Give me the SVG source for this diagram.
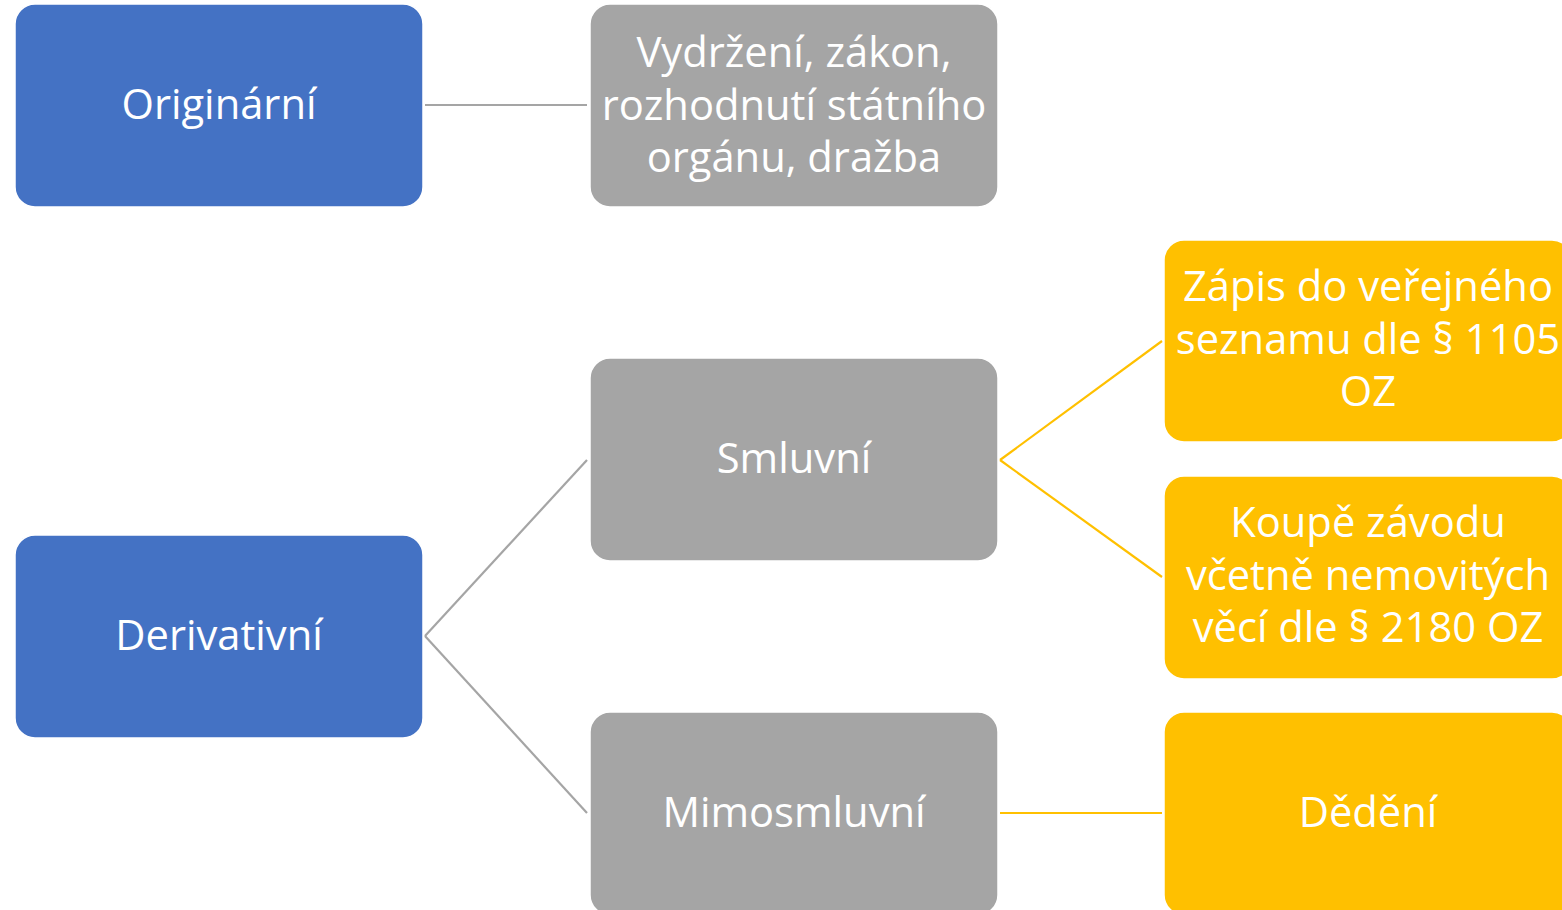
<svg xmlns="http://www.w3.org/2000/svg" width="1562" height="910" viewBox="0 0 1562 910">
<style>
.box{stroke:#fff;stroke-width:1.5}
.blue{fill:#4472C4}
.gray{fill:#A5A5A5}
.yellow{fill:#FFC000}
.t{font-family:"Open Sans","Noto Sans","Liberation Sans",sans-serif;font-size:41.7px;fill:#fff;text-anchor:middle}
.cg{stroke:#A5A5A5;stroke-width:2.2;fill:none}
.cy{stroke:#FFC000;stroke-width:2.2;fill:none}
</style>
<rect width="1562" height="910" fill="#fff"/>
<g id="connectors">
<line class="cg" x1="425" y1="105" x2="587" y2="105"/>
<line class="cg" x1="425" y1="636" x2="587" y2="460"/>
<line class="cg" x1="425" y1="636" x2="587" y2="813"/>
<line class="cy" x1="1000" y1="460" x2="1162" y2="341"/>
<line class="cy" x1="1000" y1="460" x2="1162" y2="577"/>
<line class="cy" x1="1000" y1="813" x2="1162" y2="813"/>
</g>
<g id="originarni">
<rect class="box blue" x="15" y="4" width="408" height="203" rx="20"/>
<text class="t" x="219" y="119">Originární</text>
</g>
<g id="derivativni">
<rect class="box blue" x="15" y="535" width="408" height="203" rx="20"/>
<text class="t" x="219" y="650">Derivativní</text>
</g>
<g id="vydrzeni">
<rect class="box gray" x="590" y="4" width="408" height="203" rx="20"/>
<text class="t" x="794" y="67">Vydržení, zákon,</text>
<text class="t" x="794" y="120">rozhodnutí státního</text>
<text class="t" x="794" y="172">orgánu, dražba</text>
</g>
<g id="smluvni">
<rect class="box gray" x="590" y="358" width="408" height="203" rx="20"/>
<text class="t" x="794" y="473">Smluvní</text>
</g>
<g id="mimosmluvni">
<rect class="box gray" x="590" y="712" width="408" height="203" rx="20"/>
<text class="t" x="794" y="827">Mimosmluvní</text>
</g>
<g id="zapis">
<rect class="box yellow" x="1164" y="240" width="408" height="202" rx="20"/>
<text class="t" x="1368" y="301">Zápis do veřejného</text>
<text class="t" x="1368" y="354">seznamu dle § 1105</text>
<text class="t" x="1368" y="406">OZ</text>
</g>
<g id="koupe">
<rect class="box yellow" x="1164" y="476" width="408" height="203" rx="20"/>
<text class="t" x="1368" y="537">Koupě závodu</text>
<text class="t" x="1368" y="590">včetně nemovitých</text>
<text class="t" x="1368" y="642">věcí dle § 2180 OZ</text>
</g>
<g id="dedeni">
<rect class="box yellow" x="1164" y="712" width="408" height="203" rx="20"/>
<text class="t" x="1368" y="827">Dědění</text>
</g>
</svg>
